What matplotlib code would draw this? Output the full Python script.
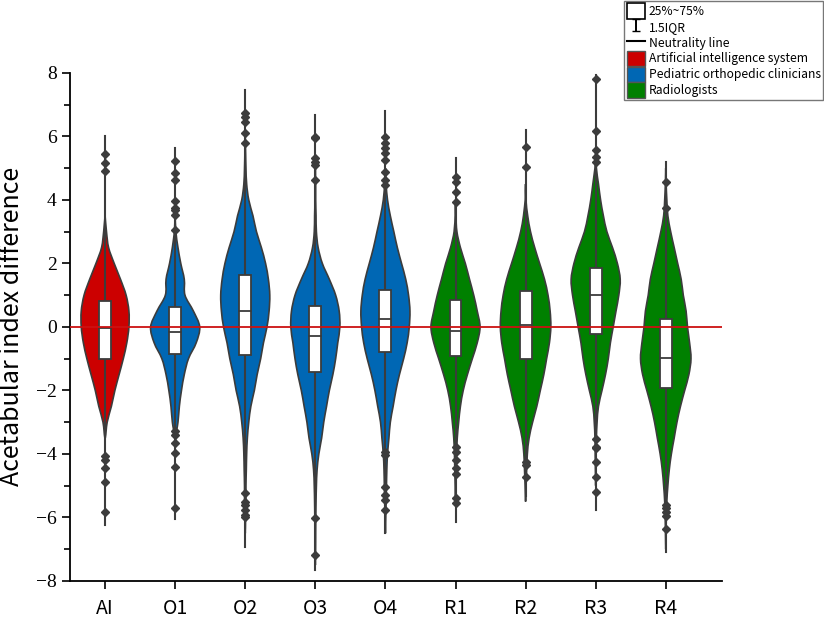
import matplotlib.pyplot as plt
from matplotlib.patches import Patch, Rectangle, PathPatch
from matplotlib.path import Path
from matplotlib.lines import Line2D
import numpy as np

# raters on the x axis and their group colour
groups = ["AI", "O1", "O2", "O3", "O4", "R1", "R2", "R3", "R4"]
group_kind = ["ai", "ortho", "ortho", "ortho", "ortho", "radio", "radio", "radio", "radio"]
kind_colors = {"ai": "#CC0000", "ortho": "#0067B4", "radio": "#008000"}

# violin half-widths (in category units) read at these y levels
levels = [8.0, 7.5, 7.0, 6.5, 6.0, 5.5, 5.0, 4.5, 4.0, 3.5, 3.0, 2.5, 2.0, 1.5, 1.0, 0.5,
          0.0, -0.5, -1.0, -1.5, -2.0, -2.5, -3.0, -3.5, -4.0, -4.5, -5.0, -5.5, -6.0, -6.5, -7.0, -7.5]
w_ai = [0, 0, 0, 0, 0, 0, 0, 0, 0, 0, 0.02, 0.05, 0.13, 0.22, 0.30, 0.34,
        0.34, 0.31, 0.26, 0.20, 0.14, 0.09, 0.03, 0, 0, 0, 0, 0, 0, 0, 0, 0]
w_o1 = [0, 0, 0, 0, 0, 0, 0, 0, 0, 0, 0.01, 0.04, 0.08, 0.13, 0.14, 0.26,
        0.35, 0.30, 0.19, 0.13, 0.09, 0.06, 0.04, 0.005, 0, 0, 0, 0, 0, 0, 0, 0]
w_o2 = [0, 0, 0, 0, 0, 0.005, 0.01, 0.02, 0.05, 0.11, 0.16, 0.23, 0.29, 0.33, 0.35, 0.34,
        0.31, 0.26, 0.22, 0.17, 0.13, 0.08, 0.05, 0.03, 0.02, 0.015, 0.01, 0.01, 0.005, 0, 0, 0]
w_o3 = [0, 0, 0, 0, 0, 0, 0, 0.005, 0.005, 0.01, 0.015, 0.04, 0.10, 0.20, 0.29, 0.34,
        0.35, 0.32, 0.29, 0.25, 0.20, 0.16, 0.12, 0.09, 0.05, 0.025, 0.015, 0.01, 0.007, 0.005, 0.004, 0]
w_o4 = [0, 0, 0, 0, 0, 0, 0, 0.01, 0.03, 0.07, 0.12, 0.17, 0.23, 0.29, 0.33, 0.35,
        0.34, 0.31, 0.26, 0.20, 0.15, 0.11, 0.07, 0.05, 0.03, 0.02, 0.015, 0.01, 0.005, 0, 0, 0]
w_r1 = [0, 0, 0, 0, 0, 0, 0, 0, 0, 0.005, 0.02, 0.07, 0.14, 0.20, 0.26, 0.31,
        0.35, 0.31, 0.24, 0.17, 0.11, 0.07, 0.045, 0.025, 0.015, 0.01, 0.005, 0, 0, 0, 0, 0]
w_r2 = [0, 0, 0, 0, 0, 0, 0, 0, 0.005, 0.03, 0.07, 0.13, 0.20, 0.27, 0.32, 0.35,
        0.36, 0.34, 0.30, 0.26, 0.21, 0.16, 0.10, 0.05, 0.025, 0.015, 0.007, 0, 0, 0, 0, 0]
w_r3 = [0, 0, 0, 0, 0, 0, 0.01, 0.04, 0.07, 0.11, 0.16, 0.24, 0.31, 0.35, 0.33, 0.29,
        0.25, 0.21, 0.18, 0.14, 0.09, 0.04, 0.02, 0.01, 0.007, 0.004, 0, 0, 0, 0, 0, 0]
w_r4 = [0, 0, 0, 0, 0, 0, 0, 0.005, 0.015, 0.03, 0.07, 0.12, 0.17, 0.22, 0.25, 0.29,
        0.31, 0.34, 0.36, 0.33, 0.27, 0.21, 0.16, 0.12, 0.08, 0.05, 0.03, 0.015, 0.008, 0.004, 0, 0]
widths = [w_ai, w_o1, w_o2, w_o3, w_o4, w_r1, w_r2, w_r3, w_r4]

# box (25%, median, 75%) and range of the centre line
q1 = [-1.00, -0.86, -0.88, -1.41, -0.80, -0.93, -1.01, -0.22, -1.93]
median = [-0.03, -0.16, 0.50, -0.30, 0.24, -0.13, 0.07, 1.00, -0.99]
q3 = [0.82, 0.62, 1.62, 0.67, 1.17, 0.85, 1.13, 1.85, 0.25]
line_lo = [-6.24, -6.05, -6.92, -7.65, -6.50, -6.13, -5.34, -5.76, -7.08]
line_hi = [6.00, 5.63, 7.46, 6.68, 6.80, 5.31, 6.20, 7.94, 5.21]

# outlier points
out_ai = [5.45, 5.17, 4.92, -4.06, -4.19, -4.45, -4.90, -5.82]
out_o1 = [5.24, 4.86, 4.63, 3.97, 3.74, 3.69, 3.53, 3.06, -3.28, -3.40, -3.66, -3.96, -4.40, -5.71]
out_o2 = [6.73, 6.60, 6.47, 6.10, 5.80, -5.22, -5.50, -5.61, -5.76, -5.92, -6.00]
out_o3 = [5.99, 5.94, 5.31, 5.21, 5.10, 4.63, -6.03, -7.18]
out_o4 = [5.99, 5.79, 5.63, 5.47, 5.26, 4.89, 4.63, 4.47, -3.93, -4.03, -5.03, -5.29, -5.45, -5.76]
out_r1 = [4.73, 4.58, 4.24, 3.92, -3.77, -3.93, -4.19, -4.45, -4.64, -5.40, -5.55]
out_r2 = [5.68, 5.05, -4.24, -4.35, -4.73]
out_r3 = [7.81, 6.17, 5.57, 5.36, 5.21, -3.54, -3.77, -3.82, -4.24, -4.73, -5.19]
out_r4 = [4.58, 3.74, -5.61, -5.71, -5.82, -5.95, -6.37]
outliers = [out_ai, out_o1, out_o2, out_o3, out_o4, out_r1, out_r2, out_r3, out_r4]

legend_labels = ["25%~75%", "1.5IQR", "Neutrality line", "Artificial intelligence system",
                 "Pediatric orthopedic clinicians", "Radiologists"]

plt.rcParams['font.family'] = ['Noto Sans CJK SC', 'DejaVu Sans']
plt.rcParams['axes.unicode_minus'] = True


def smooth_outline(pts):
    # catmull-rom curve through the outline points, as a bezier path
    verts = [pts[0]]
    codes = [Path.MOVETO]
    n = len(pts)
    for k in range(n - 1):
        p0 = pts[max(k - 1, 0)]
        p1 = pts[k]
        p2 = pts[k + 1]
        p3 = pts[min(k + 2, n - 1)]
        c1 = p1 + (p2 - p0) / 6.0
        c2 = p2 - (p3 - p1) / 6.0
        verts += [c1, c2, p2]
        codes += [Path.CURVE4] * 3
    verts.append(pts[0])
    codes.append(Path.CLOSEPOLY)
    return Path(np.array(verts), codes)


fig = plt.figure(figsize=(8.24, 6.18), dpi=100)
ax = fig.add_axes([0.085, 0.06, 0.791, 0.822])

dark = "#3c3c3c"
lev = np.array(levels)
for i, name in enumerate(groups):
    w = np.array(widths[i])
    nz = np.nonzero(w)[0]
    a, b = max(nz[0] - 1, 0), min(nz[-1] + 1, len(w) - 1)
    ys = lev[a:b + 1]
    ws = w[a:b + 1]
    right = np.column_stack([i + ws, ys])
    left = np.column_stack([i - ws, ys])[::-1][1:-1]
    pts = np.vstack([right, left])
    ax.add_patch(PathPatch(smooth_outline(pts), facecolor=kind_colors[group_kind[i]],
                           edgecolor=dark, lw=1.2, zorder=2))
    ax.plot([i, i], [line_lo[i], line_hi[i]], color=dark, lw=1.5, zorder=3)
    ax.plot([i] * len(outliers[i]), outliers[i], linestyle='none', marker='D',
            markersize=4.2, color=dark, zorder=4)
    bw = 0.17
    ax.add_patch(Rectangle((i - bw / 2, q1[i]), bw, q3[i] - q1[i], facecolor='white',
                           edgecolor=dark, lw=1.3, zorder=5))
    ax.plot([i - bw / 2, i + bw / 2], [median[i], median[i]], color=dark, lw=1.3, zorder=6)

ax.axhline(0, color="#CC1111", lw=1.3, zorder=7)

ax.set_xlim(-0.5, 8.8)
ax.set_ylim(-8, 8)
ax.set_xticks(range(len(groups)))
ax.set_xticklabels(groups, fontsize=14)
ax.set_yticks(range(-8, 9, 2))
ax.set_yticks(range(-7, 8, 2), minor=True)
ax.set_yticklabels([str(v).replace('-', '\u2212') for v in range(-8, 9, 2)],
                   fontsize=14, family=['Liberation Serif', 'DejaVu Serif'])
ax.tick_params(axis='both', which='major', length=6, width=1.2, direction='out', colors='black')
ax.tick_params(axis='y', which='minor', length=4, width=1.2, direction='out')
ax.tick_params(axis='x', pad=6)
for s in ['top', 'right']:
    ax.spines[s].set_visible(False)
for s in ['left', 'bottom']:
    ax.spines[s].set_linewidth(1.3)
ax.set_ylabel("Acetabular index difference", fontsize=18, labelpad=8)

eb = ax.errorbar([np.nan], [np.nan], yerr=[0.5], fmt='none', ecolor='black', capsize=3,
                 elinewidth=1.4)
handles = [
    Patch(facecolor='white', edgecolor='black', lw=1.2),
    eb,
    Line2D([], [], color='black', lw=1.5),
    Patch(facecolor=kind_colors["ai"], edgecolor='#555555'),
    Patch(facecolor=kind_colors["ortho"], edgecolor='#555555'),
    Patch(facecolor=kind_colors["radio"], edgecolor='#555555'),
]
leg = fig.legend(handles, legend_labels, loc='upper right', bbox_to_anchor=(0.999, 0.999),
                 fontsize=8.7, frameon=True, fancybox=False, edgecolor='#555555',
                 handlelength=1.5, handleheight=1.6, labelspacing=0.03, borderpad=0.2,
                 handletextpad=0.3, borderaxespad=0)
leg.get_frame().set_linewidth(1.0)

fig.savefig("out.png", dpi=100)
